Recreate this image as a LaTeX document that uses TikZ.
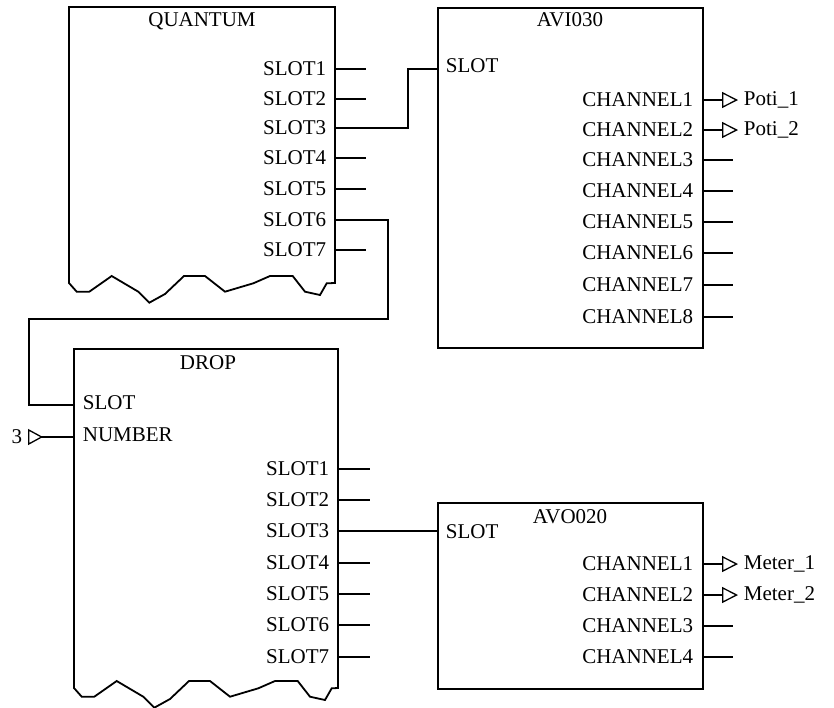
\documentclass[tikz,border=0pt]{standalone}
\usepackage{fontspec}
\setmainfont{Liberation Serif}
\usetikzlibrary{arrows.meta}

\begin{document}
\begin{tikzpicture}[x=1pt,y=-1pt,line width=1.8pt,line cap=butt,
  font=\fontsize{21}{25}\selectfont,
  boxnode/.style={draw,anchor=north west,inner sep=0pt,minimum width=265pt},
  ttl/.style={anchor=base,inner sep=0pt},
  pinr/.style={anchor=base east,inner sep=0pt},
  pinl/.style={anchor=base west,inner sep=0pt},
  sig/.style={-{Triangle[open,length=16pt,width=16pt,line width=1.3pt]}},
  sigin/.style={-{Triangle[open,reversed,length=15pt,width=16pt,line width=1.3pt]}}]
\useasboundingbox (0,0) rectangle (834,707);
% QUANTUM, torn bottom edge
\draw (335,283) -- (335,7) -- (69,7) -- (69,283) -- (76.7,291.7) -- (89.3,291.7)
  -- (111.7,276) -- (138.3,291.7) -- (149.3,302.7) -- (165,294) -- (184,276)
  -- (205,276) -- (225,291.7) -- (253.3,283.3) -- (270,276) -- (292.7,276)
  -- (305,291.7) -- (320,295) -- (326.7,283.3) -- cycle;
\node[ttl] (quantum) at (202,26) {QUANTUM};
\node[pinr] (q1) at (327,75) {SLOT1};
\draw (335,69) -- (366,69);
\node[pinr] (q2) at (327,105) {SLOT2};
\draw (335,99) -- (366,99);
\node[pinr] (q3) at (327,134) {SLOT3};
\coordinate (q3p) at (335,128);
\node[pinr] (q4) at (327,164) {SLOT4};
\draw (335,158) -- (366,158);
\node[pinr] (q5) at (327,195) {SLOT5};
\draw (335,189) -- (366,189);
\node[pinr] (q6) at (327,226) {SLOT6};
\coordinate (q6p) at (335,220);
\node[pinr] (q7) at (327,256) {SLOT7};
\draw (335,250) -- (366,250);
% AVI030
\node[boxnode,minimum height=340pt] (avi) at (437,7) {};
\node[ttl] (avititle) at (570,26) {AVI030};
\node[pinl] (avislot) at (445,72) {SLOT};
\coordinate (avislotp) at (437,69);
\node[pinr] (c1) at (694,106) {CHANNEL1};
\coordinate (c1p) at (702,100);
\node[pinr] (c2) at (694,136) {CHANNEL2};
\coordinate (c2p) at (702,130);
\node[pinr] (c3) at (694,166) {CHANNEL3};
\draw (702,160) -- (733,160);
\node[pinr] (c4) at (694,197) {CHANNEL4};
\draw (702,191) -- (733,191);
\node[pinr] (c5) at (694,228) {CHANNEL5};
\draw (702,222) -- (733,222);
\node[pinr] (c6) at (694,259) {CHANNEL6};
\draw (702,253) -- (733,253);
\node[pinr] (c7) at (694,291) {CHANNEL7};
\draw (702,285) -- (733,285);
\node[pinr] (c8) at (694,323) {CHANNEL8};
\draw (702,317) -- (733,317);
\node[anchor=west,inner sep=0pt] (poti1) at (743,100) {Poti\_1};
\node[anchor=west,inner sep=0pt] (poti2) at (743,130) {Poti\_2};
\draw[sig] (c1p) -- (poti1.west -| 738,0);
\draw[sig] (c2p) -- (poti2.west -| 738,0);
% DROP, torn bottom edge
\draw[shift={(5,405)}] (333,283) -- (333,-56) -- (69,-56) -- (69,283) -- (76.7,291.7) -- (89.3,291.7)
  -- (111.7,276) -- (138.3,291.7) -- (149.3,302.7) -- (165,294) -- (184,276)
  -- (205,276) -- (225,291.7) -- (253.3,283.3) -- (270,276) -- (292.7,276)
  -- (305,291.7) -- (320,295) -- (326.7,283.3) -- cycle;
\node[ttl] (drop) at (208,369) {DROP};
\node[pinl] (dslot) at (82,409) {SLOT};
\coordinate (dslotp) at (74,405);
\node[pinl] (dnum) at (82,441) {NUMBER};
\coordinate (dnump) at (74,437);
\node[anchor=east,inner sep=0pt] (three) at (23,437) {3};
\draw[sigin] (dnump) -- (three.east -| 28,0);
\node[pinr] (d1) at (330,475) {SLOT1};
\draw (338,469) -- (370,469);
\node[pinr] (d2) at (330,506) {SLOT2};
\draw (338,500) -- (370,500);
\node[pinr] (d3) at (330,537) {SLOT3};
\coordinate (d3p) at (338,531);
\node[pinr] (d4) at (330,569) {SLOT4};
\draw (338,563) -- (370,563);
\node[pinr] (d5) at (330,600) {SLOT5};
\draw (338,594) -- (370,594);
\node[pinr] (d6) at (330,631) {SLOT6};
\draw (338,625) -- (370,625);
\node[pinr] (d7) at (330,663) {SLOT7};
\draw (338,657) -- (370,657);
% AVO020
\node[boxnode,minimum height=186pt] (avo) at (437,502) {};
\node[ttl] (avotitle) at (570,523) {AVO020};
\node[pinl] (avoslot) at (445,538) {SLOT};
\coordinate (avoslotp) at (437,531);
\node[pinr] (o1) at (694,570) {CHANNEL1};
\coordinate (o1p) at (702,564);
\node[pinr] (o2) at (694,601) {CHANNEL2};
\coordinate (o2p) at (702,595);
\node[pinr] (o3) at (694,632) {CHANNEL3};
\draw (702,626) -- (733,626);
\node[pinr] (o4) at (694,663) {CHANNEL4};
\draw (702,657) -- (733,657);
\node[anchor=west,inner sep=0pt] (meter1) at (743,564) {Meter\_1};
\node[anchor=west,inner sep=0pt] (meter2) at (743,595) {Meter\_2};
\draw[sig] (o1p) -- (meter1.west -| 738,0);
\draw[sig] (o2p) -- (meter2.west -| 738,0);
% wiring
\draw (q3p) -- ++(73,0) |- (avislotp);
\draw (q6p) -- ++(53,0) -- ++(0,99) -- ++(-359,0) |- (dslotp);
\draw (d3p) -- (avoslotp);
\end{tikzpicture}
\end{document}
